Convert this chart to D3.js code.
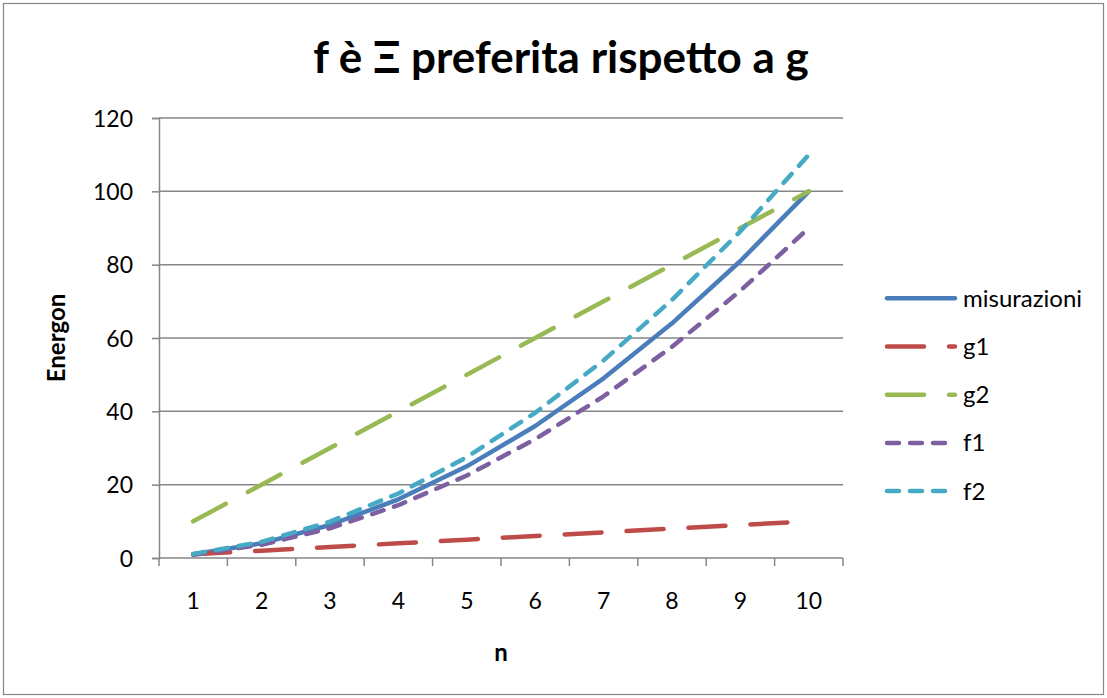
<!DOCTYPE html>
<html>
<head>
<meta charset="utf-8">
<script src="https://cdn.jsdelivr.net/npm/d3@7"></script>
<style>
  html, body { margin: 0; padding: 0; background: #fff; }
  svg { display: block; font-family: Lato, "Open Sans", sans-serif; }
</style>
</head>
<body>
<svg id="chart" width="1107" height="698"></svg>
<script>
// Values measured per n
const categories = ["1", "2", "3", "4", "5", "6", "7", "8", "9", "10"];
const misurazioni = [1, 4, 9, 16, 25, 36, 49, 64, 81, 100];
const g1 = [1, 2, 3, 4, 5, 6, 7, 8, 9, 10];
const g2 = [10, 20, 30, 40, 50, 60, 70, 80, 90, 100];
const f1 = [0.9, 3.6, 8.1, 14.4, 22.5, 32.4, 44.1, 57.6, 72.9, 90];
const f2 = [1.1, 4.4, 9.9, 17.6, 27.5, 39.6, 53.9, 70.4, 89.1, 110];
const yTicks = [0, 20, 40, 60, 80, 100, 120];

const seriesList = [
  { name: "misurazioni", values: misurazioni, color: "#4a7ebb", dash: null },
  { name: "g1", values: g1, color: "#be4b48", dash: "37,25" },
  { name: "g2", values: g2, color: "#98b954", dash: "37,25" },
  { name: "f1", values: f1, color: "#7d60a0", dash: "12,11" },
  { name: "f2", values: f2, color: "#46aac5", dash: "12,11" }
];

const svg = d3.select("#chart");
const W = 1107, H = 698;
const plot = { left: 159, right: 843, top: 118, bottom: 558 };

// outer frame
svg.append("rect")
  .attr("x", 3.5).attr("y", 3.5)
  .attr("width", W - 7).attr("height", H - 7)
  .attr("fill", "#fff").attr("stroke", "#868686").attr("stroke-width", 1.2);

const x = d3.scaleBand().domain(categories).range([plot.left, plot.right]);
const y = d3.scaleLinear().domain([0, 120]).range([plot.bottom, plot.top]);

// horizontal gridlines
svg.append("g")
  .selectAll("line")
  .data(yTicks.filter(d => d > 0))
  .join("line")
  .attr("x1", plot.left).attr("x2", plot.right)
  .attr("y1", d => y(d)).attr("y2", d => y(d))
  .attr("stroke", "#868686").attr("stroke-width", 1.5);

// y axis
const yAxis = svg.append("g")
  .attr("transform", `translate(${plot.left},0)`)
  .call(d3.axisLeft(y).tickValues(yTicks).tickSize(7).tickPadding(19).tickFormat(d3.format("d")));
yAxis.select(".domain").attr("stroke", "#868686").attr("stroke-width", 1.5);
yAxis.selectAll(".tick line").attr("stroke", "#868686").attr("stroke-width", 1.5);
yAxis.selectAll(".tick text").attr("font-size", 23).attr("fill", "#000")
  .attr("font-family", "Lato, sans-serif").attr("dy", "0.36em");

// x axis: ticks on band boundaries, labels centred in bands
const xAxisG = svg.append("g").attr("transform", `translate(0,${plot.bottom})`);
xAxisG.append("line")
  .attr("x1", plot.left).attr("x2", plot.right)
  .attr("stroke", "#868686").attr("stroke-width", 1.5);
const boundaries = categories.map(c => x(c)).concat([plot.right]);
xAxisG.selectAll("line.tk")
  .data(boundaries)
  .join("line")
  .attr("class", "tk")
  .attr("x1", d => d).attr("x2", d => d)
  .attr("y1", 0).attr("y2", 8)
  .attr("stroke", "#868686").attr("stroke-width", 1.5);
xAxisG.selectAll("text")
  .data(categories)
  .join("text")
  .attr("x", d => x(d) + x.bandwidth() / 2)
  .attr("y", 51)
  .attr("text-anchor", "middle")
  .attr("font-size", 23)
  .text(d => d);

// series lines
const line = d3.line()
  .x((d, i) => x(categories[i]) + x.bandwidth() / 2)
  .y(d => y(d));

svg.append("g")
  .selectAll("path")
  .data(seriesList)
  .join("path")
  .attr("d", s => line(s.values))
  .attr("fill", "none")
  .attr("stroke", s => s.color)
  .attr("stroke-width", 4.5)
  .attr("stroke-linecap", "round")
  .attr("stroke-linejoin", "round")
  .attr("stroke-dasharray", s => s.dash);

// title
svg.append("text")
  .attr("x", 561).attr("y", 73)
  .attr("text-anchor", "middle")
  .attr("font-size", 44).attr("font-weight", "bold")
  .text("f è Ξ preferita rispetto a g");

// axis titles
svg.append("text")
  .attr("x", (plot.left + plot.right) / 2).attr("y", 661)
  .attr("text-anchor", "middle")
  .attr("font-size", 24).attr("font-weight", "bold")
  .text("n");
svg.append("text")
  .attr("transform", `translate(65,${(plot.top + plot.bottom) / 2}) rotate(-90)`)
  .attr("text-anchor", "middle")
  .attr("font-size", 24).attr("font-weight", "bold")
  .text("Energon");

// legend
const legend = svg.append("g");
const rows = legend.selectAll("g")
  .data(seriesList)
  .join("g")
  .attr("transform", (d, i) => `translate(887,${298.3 + i * 48.2})`);
rows.append("line")
  .attr("x1", 0).attr("x2", 68)
  .attr("stroke", d => d.color)
  .attr("stroke-width", 4.5)
  .attr("stroke-linecap", "round")
  .attr("stroke-dasharray", d => d.dash);
rows.append("text")
  .attr("x", 76).attr("y", 8.5)
  .attr("font-size", 24)
  .text(d => d.name);
</script>
</body>
</html>
